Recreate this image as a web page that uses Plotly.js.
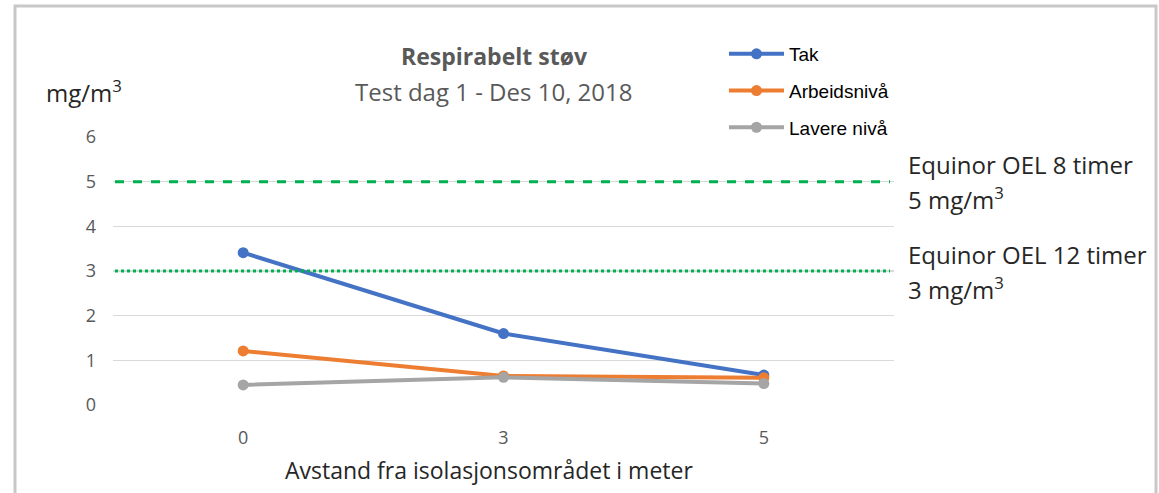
<!DOCTYPE html>
<html>
<head>
<meta charset="utf-8">
<script src="https://cdn.plot.ly/plotly-3.0.1.min.js"></script>
<style>
  html, body { margin: 0; padding: 0; background: #fff; }
  #chart { width: 1159px; height: 493px; }
</style>
</head>
<body>
<div id="chart"></div>
<script>
const categories = ['0', '3', '5'];
const seriesNames = ['Tak', 'Arbeidsnivå', 'Lavere nivå'];
const tak = [3.41, 1.60, 0.67];
const arbeidsniva = [1.21, 0.65, 0.61];
const lavereNiva = [0.45, 0.62, 0.48];
const seriesColors = ['#4472C4', '#ED7D31', '#A5A5A5'];
const oelValues = [5, 3];
const oelNames = ['Equinor OEL 8 timer', 'Equinor OEL 12 timer'];
const oelUnits = ['5 mg/m<sup>3</sup>', '3 mg/m<sup>3</sup>'];
const oelDash = ['dash', 'dot'];
const yTicks = [0, 1, 2, 3, 4, 5, 6];

const F = '"Open Sans", "DejaVu Sans", sans-serif';
const seriesValues = [tak, arbeidsniva, lavereNiva];

const traces = seriesValues.map((vals, i) => ({
  type: 'scatter',
  mode: 'lines+markers',
  x: categories,
  y: vals,
  name: seriesNames[i],
  legendgroup: 'g' + i,
  line: { color: seriesColors[i], width: 4 },
  marker: { color: seriesColors[i], size: 11 }
}));

// plot area in pixels: x 113..894, y 137..405
const L = 113, R = 894, T = 137, B = 405;
const pw = R - L, ph = B - T;
const px = p => (p - L) / pw;
const py = p => (B - p) / ph;

const shapes = oelValues.map((v, i) => ({
  type: 'line', xref: 'paper', yref: 'y',
  x0: px(115), x1: px(890), y0: v, y1: v,
  line: { color: '#00B050', width: 3, dash: oelDash[i] },
  layer: 'above'
}));
shapes.push({
  type: 'rect', xref: 'paper', yref: 'paper',
  x0: px(15), x1: px(1156), y0: py(6), y1: py(520),
  line: { color: '#c8c8c8', width: 3 }, fillcolor: 'rgba(0,0,0,0)', layer: 'below'
});

const annotations = [
  { xref: 'paper', yref: 'paper', x: px(44), y: py(91), xanchor: 'left', yanchor: 'middle',
    text: 'mg/m<sup>3</sup>', showarrow: false, font: { family: F, size: 24, color: '#262626' } },
  { xref: 'paper', yref: 'paper', x: px(493), y: py(92), xanchor: 'center', yanchor: 'middle',
    text: 'Test dag 1 - Des 10, 2018', showarrow: false, font: { family: F, size: 24, color: '#595959' } },
  { xref: 'paper', yref: 'paper', x: px(489), y: py(470), xanchor: 'center', yanchor: 'middle',
    text: 'Avstand fra isolasjonsområdet i meter', showarrow: false, font: { family: F, size: 23, color: '#262626' } }
];
oelValues.forEach((v, i) => {
  annotations.push({
    xref: 'paper', yref: 'y', x: px(906), y: v, xanchor: 'left', yanchor: 'middle',
    yshift: 17, text: oelNames[i], showarrow: false, align: 'left',
    font: { family: F, size: 24, color: '#262626' }
  });
  annotations.push({
    xref: 'paper', yref: 'y', x: px(906), y: v, xanchor: 'left', yanchor: 'middle',
    yshift: -17, text: oelUnits[i], showarrow: false, align: 'left',
    font: { family: F, size: 24, color: '#262626' }
  });
});

const layout = {
  width: 1159, height: 493,
  margin: { l: L, r: 1159 - R, t: T, b: 493 - B },
  paper_bgcolor: '#fff', plot_bgcolor: '#fff',
  title: {
    text: '<b>Respirabelt støv</b>',
    x: 494 / 1159, xanchor: 'center', xref: 'container',
    y: 1 - 57 / 493, yanchor: 'middle', yref: 'container',
    font: { family: F, size: 23, color: '#595959' }
  },
  xaxis: {
    type: 'category', range: [-0.5, 2.5],
    showgrid: false, zeroline: false, showline: false, ticks: '',
    tickfont: { family: F, size: 18, color: '#595959' },
    ticklabelstandoff: 20
  },
  yaxis: {
    range: [0, 6], tickvals: yTicks, ticktext: yTicks.map(String),
    showgrid: true, gridcolor: '#d9d9d9', gridwidth: 1.5, zeroline: false, showline: false, ticks: '',
    tickfont: { family: F, size: 18, color: '#595959' },
    ticklabelstandoff: 16
  },
  showlegend: true,
  legend: {
    x: px(724), y: py(35), xanchor: 'left', yanchor: 'top',
    traceorder: 'grouped', tracegroupgap: 9, itemwidth: 55,
    font: { family: '"Liberation Sans", Arial, sans-serif', size: 19, color: '#000' },
    bgcolor: 'rgba(0,0,0,0)'
  },
  shapes: shapes,
  annotations: annotations
};

Plotly.newPlot('chart', traces, layout, { displayModeBar: false, staticPlot: true });
</script>
</body>
</html>
